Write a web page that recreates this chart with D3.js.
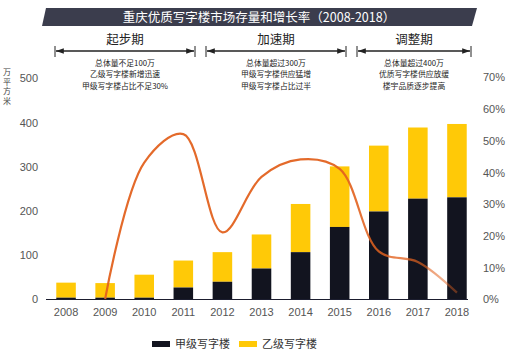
<!DOCTYPE html>
<html>
<head>
<meta charset="utf-8">
<script src="https://cdn.jsdelivr.net/npm/d3@7"></script>
<style>
  body { margin: 0; background: #fff; }
  text { font-family: "Liberation Sans", "Noto Sans CJK SC", sans-serif; }
  .cjk { font-family: "Noto Sans CJK SC", sans-serif; }
</style>
</head>
<body>
<div id="chart"></div>
<script>
var years = ["2008","2009","2010","2011","2012","2013","2014","2015","2016","2017","2018"];
var gradeA = [3, 3, 3, 26, 39, 69, 106, 163, 198, 227, 230];
var gradeB = [34, 33, 52, 61, 67, 77, 109, 137, 149, 161, 166];
var growthYears = ["2009","2010","2011","2012","2013","2014","2015","2016","2017","2018"];
var growth = [0, 43, 52, 21, 38.5, 44, 41, 15, 11.7, 2];
var leftTicks = [0, 100, 200, 300, 400, 500];
var rightTicks = [0, 10, 20, 30, 40, 50, 60, 70];
var phases = [
  {name: "起步期", x0: 55, x1: 195, notes: ["总体量不足100万", "乙级写字楼新增迅速", "甲级写字楼占比不足30%"]},
  {name: "加速期", x0: 206, x1: 346, notes: ["总体量超过300万", "甲级写字楼供应猛增", "甲级写字楼占比过半"]},
  {name: "调整期", x0: 357, x1: 471, notes: ["总体量超过400万", "优质写字楼供应放缓", "楼宇品质逐步提高"]}
];
var legendItems = [{label: "甲级写字楼", color: "#12141f"}, {label: "乙级写字楼", color: "#ffc907"}];

var W = 523, H = 361;
var svg = d3.select("#chart").append("svg").attr("width", W).attr("height", H);

var x = d3.scaleBand().domain(years).range([46.5, 476.5]).paddingInner(0.5).paddingOuter(0.25);
var yL = d3.scaleLinear().domain([0, 500]).range([299, 78]);
var yR = d3.scaleLinear().domain([0, 70]).range([299, 77]);

// title banner
svg.append("path")
  .attr("d", "M46,8 L477,8 L472,26 L42,26 Z")
  .attr("fill", "#3b3d4d");
svg.append("text").attr("class", "cjk")
  .attr("x", 259).attr("y", 21.5)
  .attr("text-anchor", "middle")
  .attr("fill", "#fff")
  .style("font-size", "12.5px")
  .text("重庆优质写字楼市场存量和增长率（2008-2018）");

// arrow marker
var defs = svg.append("defs");
defs.append("marker").attr("id", "arr").attr("viewBox", "0 0 10 10")
  .attr("refX", 10).attr("refY", 5).attr("markerWidth", 6).attr("markerHeight", 6)
  .attr("orient", "auto-start-reverse")
  .append("path").attr("d", "M0,1.5 L10,5 L0,8.5 Z").attr("fill", "#222");

var ph = svg.selectAll(".phase").data(phases).enter().append("g").attr("class", "phase");
ph.append("text").attr("class", "cjk")
  .attr("x", function(d) { return (d.x0 + d.x1) / 2; })
  .attr("y", 44).attr("text-anchor", "middle")
  .attr("fill", "#222").style("font-size", "12.5px")
  .text(function(d) { return d.name; });
ph.append("line")
  .attr("x1", function(d) { return d.x0 + 1; }).attr("x2", function(d) { return d.x1 - 1; })
  .attr("y1", 51).attr("y2", 51)
  .attr("stroke", "#222").attr("stroke-width", 1.3)
  .attr("marker-start", "url(#arr)").attr("marker-end", "url(#arr)");
ph.append("line").attr("x1", function(d) { return d.x0; }).attr("x2", function(d) { return d.x0; })
  .attr("y1", 46).attr("y2", 57).attr("stroke", "#222").attr("stroke-width", 1);
ph.append("line").attr("x1", function(d) { return d.x1; }).attr("x2", function(d) { return d.x1; })
  .attr("y1", 46).attr("y2", 57).attr("stroke", "#222").attr("stroke-width", 1);
ph.each(function(d) {
  var g = d3.select(this);
  d.notes.forEach(function(n, i) {
    g.append("text").attr("class", "cjk")
      .attr("x", (d.x0 + d.x1) / 2).attr("y", 66 + i * 11.3)
      .attr("text-anchor", "middle").attr("fill", "#222")
      .style("font-size", "7.8px").text(n);
  });
});

// unit label
svg.append("g").selectAll("text").data("万平方米".split("")).enter().append("text")
  .attr("class", "cjk").attr("x", 7).attr("y", function(d, i) { return 75 + i * 9.5; })
  .attr("text-anchor", "middle").attr("fill", "#444").style("font-size", "8px")
  .text(function(d) { return d; });

// axes
var axL = svg.append("g").attr("transform", "translate(38,0)")
  .call(d3.axisLeft(yL).tickValues(leftTicks).tickSize(0).tickPadding(0));
var axR = svg.append("g").attr("transform", "translate(483,0)")
  .call(d3.axisRight(yR).tickValues(rightTicks).tickSize(0).tickPadding(0).tickFormat(function(d) { return d + "%"; }));
[axL, axR].forEach(function(a) {
  a.select(".domain").remove();
  a.selectAll("text").attr("fill", "#555").style("font-size", "11px").attr("dy", "0.35em");
});

// bars
var stackData = years.map(function(yr, i) { return {year: yr, a: gradeA[i], b: gradeB[i]}; });
var bars = svg.append("g").selectAll("g").data(stackData).enter().append("g");
bars.append("rect")
  .attr("x", function(d) { return x(d.year); }).attr("width", x.bandwidth())
  .attr("y", function(d) { return yL(d.a + d.b); })
  .attr("height", function(d) { return yL(d.a) - yL(d.a + d.b); })
  .attr("fill", "#ffc907");
bars.append("rect")
  .attr("x", function(d) { return x(d.year); }).attr("width", x.bandwidth())
  .attr("y", function(d) { return yL(d.a); })
  .attr("height", function(d) { return yL(0) - yL(d.a); })
  .attr("fill", "#12141f");

// baseline
svg.append("line").attr("x1", 46).attr("x2", 468).attr("y1", 299.5).attr("y2", 299.5)
  .attr("stroke", "#1b1d2e").attr("stroke-width", 1.2);

// x labels
var axX = svg.append("g").attr("transform", "translate(0,299)")
  .call(d3.axisBottom(x).tickSize(0).tickPadding(9));
axX.select(".domain").remove();
axX.selectAll("text").attr("fill", "#555").style("font-size", "11px");

// growth line with fading tail
var cx = function(yr) { return x(yr) + x.bandwidth() / 2; };
var grad = defs.append("linearGradient").attr("id", "fade")
  .attr("gradientUnits", "userSpaceOnUse")
  .attr("x1", cx("2015")).attr("x2", cx("2018")).attr("y1", 0).attr("y2", 0);
grad.append("stop").attr("offset", "0").attr("stop-color", "#e2621f").attr("stop-opacity", 0.95);
grad.append("stop").attr("offset", "0.6").attr("stop-color", "#e2621f").attr("stop-opacity", 0.75);
grad.append("stop").attr("offset", "1").attr("stop-color", "#e2621f").attr("stop-opacity", 0.4);

var line = d3.line()
  .curve(d3.curveCatmullRom.alpha(0.5))
  .x(function(d) { return cx(d.year); })
  .y(function(d) { return yR(d.v); });
svg.append("path")
  .datum(growthYears.map(function(yr, i) { return {year: yr, v: growth[i]}; }))
  .attr("d", line).attr("fill", "none")
  .attr("stroke", "url(#fade)").attr("stroke-width", 2.2);

// legend
var lg = svg.append("g").selectAll("g").data(legendItems).enter().append("g")
  .attr("transform", function(d, i) { return "translate(" + (152 + i * 87) + ",341)"; });
lg.append("rect").attr("width", 18).attr("height", 6).attr("fill", function(d) { return d.color; });
lg.append("text").attr("class", "cjk").attr("x", 23).attr("y", 7)
  .attr("fill", "#333").style("font-size", "11px").text(function(d) { return d.label; });
</script>
</body>
</html>
